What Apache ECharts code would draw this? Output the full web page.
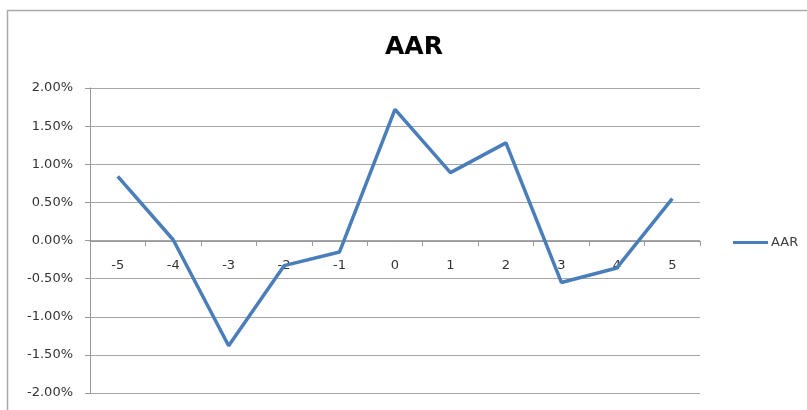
<!DOCTYPE html>
<html>
<head>
<meta charset="utf-8">
<script src="https://cdn.jsdelivr.net/npm/echarts@6/dist/echarts.min.js"></script>
<style>
  html, body { margin: 0; padding: 0; background: #fff; }
  #chart { width: 807px; height: 410px; }
</style>
</head>
<body>
<div id="chart"></div>
<script>
  // event days and average abnormal return (%)
  const days = ['-5', '-4', '-3', '-2', '-1', '0', '1', '2', '3', '4', '5'];
  const aar = [0.84, 0.01, -1.38, -0.33, -0.15, 1.72, 0.89, 1.28, -0.55, -0.36, 0.55];

  const chart = echarts.init(document.getElementById('chart'));
  const font = 'DejaVu Sans';
  const option = {
    animation: false,
    backgroundColor: '#fff',
    title: {
      text: 'AAR',
      left: 380,
      top: 30,
      textStyle: { fontFamily: font, fontSize: 25, fontWeight: 'bold', color: '#000' }
    },
    legend: {
      data: ['AAR'],
      left: 728,
      top: 231,
      icon: 'rect',
      itemWidth: 35,
      itemHeight: 3,
      itemGap: 5,
      textStyle: { fontFamily: font, fontSize: 13, color: '#404040', padding: [0, 0, 0, -2] }
    },
    grid: { left: 90, right: 107, top: 88, bottom: 17, containLabel: false, outerBoundsMode: 'none' },
    xAxis: {
      type: 'category',
      data: days,
      boundaryGap: true,
      // axis drawn across the 0% line, as in the original
      offset: -152,
      axisLine: { onZero: false, lineStyle: { color: '#999', width: 1 } },
      axisTick: { show: true, length: 5, lineStyle: { color: '#999' } },
      axisLabel: { margin: 18, fontFamily: font, fontSize: 13, color: '#333' },
      splitLine: { show: false }
    },
    yAxis: {
      type: 'value',
      min: -2,
      max: 2,
      interval: 0.5,
      axisLine: { show: true, lineStyle: { color: '#999', width: 1 } },
      axisTick: { show: true, length: 5, lineStyle: { color: '#999' } },
      axisLabel: {
        margin: 17,
        fontFamily: font,
        fontSize: 13,
        color: '#333',
        formatter: v => v.toFixed(2) + '%'
      },
      splitLine: { show: true, lineStyle: { color: '#a6a6a6', width: 1 } }
    },
    graphic: [
      {
        type: 'rect',
        shape: { x: 7.5, y: 10.5, width: 900, height: 500 },
        style: { fill: 'none', stroke: '#aaa', lineWidth: 1.5 },
        silent: true
      }
    ],
    series: [
      {
        name: 'AAR',
        type: 'line',
        data: aar,
        symbol: 'none',
        lineStyle: { color: '#4a7ebb', width: 3.5 },
        itemStyle: { color: '#4a7ebb' }
      }
    ]
  };
  chart.setOption(option);
</script>
</body>
</html>
